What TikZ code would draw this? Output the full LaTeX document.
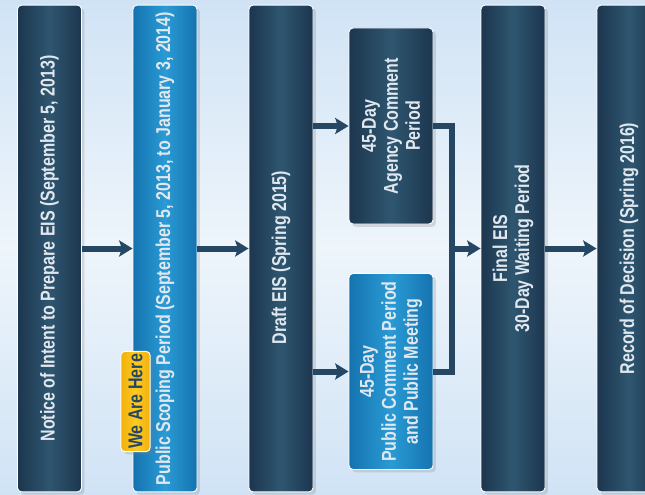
\documentclass[tikz,border=0pt]{standalone}
\usepackage{fontspec}
\newfontfamily\narrowfont[FakeStretch=0.8]{Liberation Sans}
\usetikzlibrary{arrows.meta,calc,positioning,shadows}
\definecolor{navy}{RGB}{28,54,78}
\definecolor{navylight}{RGB}{47,86,112}
\definecolor{ocean}{RGB}{20,115,175}
\definecolor{oceanlight}{RGB}{42,155,213}
\definecolor{amber}{RGB}{242,176,10}
\definecolor{amberlight}{RGB}{253,202,34}
\definecolor{wire}{RGB}{37,71,99}
\definecolor{haze}{RGB}{208,227,245}
\definecolor{mist}{RGB}{238,245,251}
\definecolor{chalk}{RGB}{224,231,238}
\tikzset{
  stage/.style={rotate=90,rounded corners=3pt,draw=white,line width=0.7pt,
    left color=navy,right color=navy,middle color=navylight,
    text=chalk,align=center,inner sep=2pt,
    font=\narrowfont\bfseries\fontsize{15}{16.5}\selectfont,
    drop shadow={opacity=0.25}},
  longstage/.style={stage,minimum width=365pt,minimum height=48pt},
  shortstage/.style={stage,minimum width=147pt,minimum height=63pt},
  public/.style={left color=ocean,right color=ocean,middle color=oceanlight},
  flow/.style={draw=wire,line width=4.5pt,line join=miter,->,
    >={Stealth[length=10pt,width=12pt,inset=2pt]}},
}

\begin{document}
\begin{tikzpicture}[x=0.75pt,y=-0.75pt]
    \useasboundingbox (0,0) rectangle (645,495);
    \clip (0,0) rectangle (645,495);
    % sky
    \fill[top color=haze,bottom color=haze,middle color=mist] (0,0) rectangle (645,495);

    \node[longstage] (notice) at (49.5,248.5) {Notice of Intent to Prepare EIS (September 5, 2013)};
    \node[longstage,public] (scoping) at (165,248.5) {Public Scoping Period (September 5, 2013, to January 3, 2014)};
    \node[longstage] (draft) at (281,248.5) {Draft EIS (Spring 2015)\hspace*{13.5pt}};
    \node[shortstage] (agency) at (391,126) {45-Day\\Agency Comment\\Period};
    \node[shortstage,public] (comment) at (391,371.5) {45-Day\\Public Comment Period\\and Public Meeting};
    \node[longstage] (final) at (513,248.5) {Final EIS\\30-Day Waiting Period};
    \node[longstage] (record) at (629,248.5) {Record of Decision (Spring 2016)};
    \node[stage,minimum width=74pt,minimum height=22pt,text=wire,
      left color=amber,right color=amber,middle color=amberlight] (here) at (135.5,401.5) {We Are Here};

    \coordinate (join) at (452,248.5);
    \draw[flow] (notice.south) -- (scoping.north);
    \draw[flow] (scoping.south) -- (draft.north);
    \draw[flow] (agency.north -| draft.south) -- (agency.north);
    \draw[flow] (comment.north -| draft.south) -- (comment.north);
    \draw[flow,-] (agency.south) -- (agency.south -| join) |- (comment.south);
    \draw[flow] (join) -- (final.north);
    \draw[flow] (final.south) -- (record.north);
  \end{tikzpicture}
\end{document}
